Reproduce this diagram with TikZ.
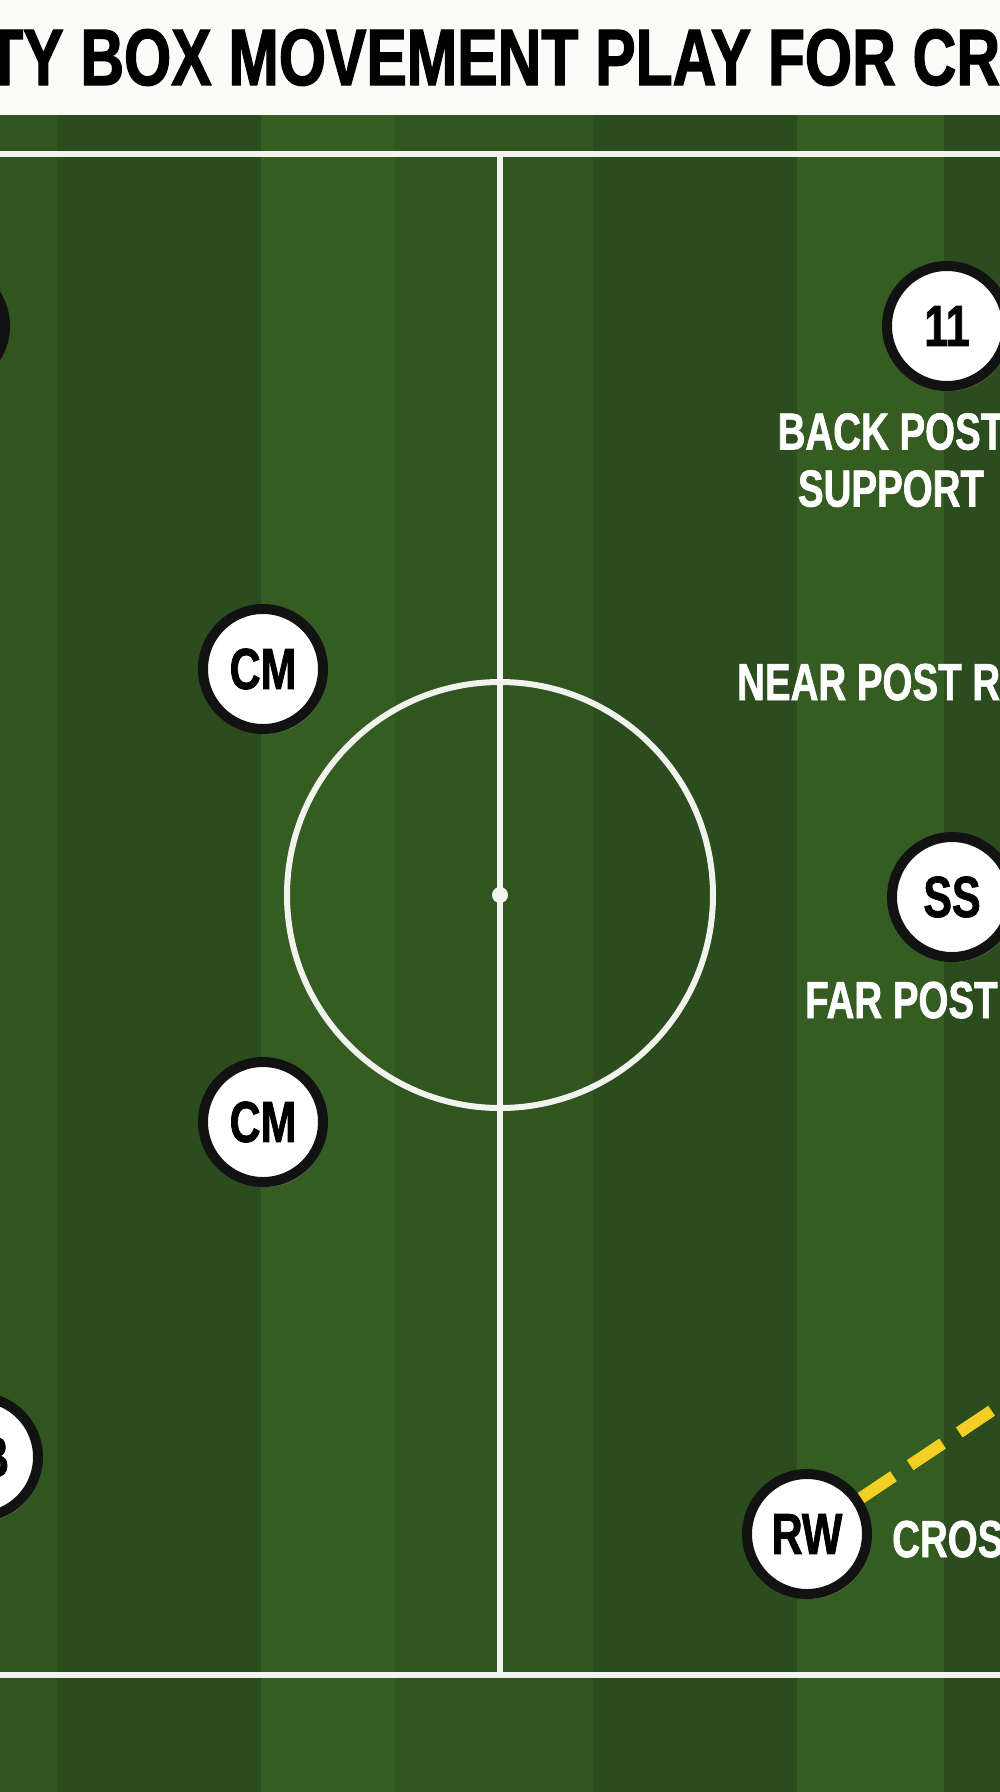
\documentclass[tikz,border=0pt]{standalone}
\usepackage{fontspec}
\newfontfamily\pitchfont[FakeStretch=0.74,FakeBold=1.2]{Liberation Sans}
\newfontfamily\headfont[FakeStretch=0.757,FakeBold=1.6]{Liberation Sans}
\usetikzlibrary{shadows}

\definecolor{titlewhite}{HTML}{FBFBF8}
\definecolor{grassdark}{HTML}{2B4C1D}
\definecolor{grassmid}{HTML}{30551F}
\definecolor{grasslight}{HTML}{355D22}
\definecolor{chalk}{HTML}{F2F2EE}
\definecolor{crossyellow}{HTML}{F1CF24}

\tikzset{
  player/.style={circle, draw=black!93, line width=10pt, fill=white,
    minimum size=120pt, inner sep=0pt,
    font=\pitchfont\bfseries\fontsize{58}{60}\selectfont,
    drop shadow={shadow xshift=3pt, shadow yshift=-5pt, opacity=.45}},
  tag/.style={text=white, inner sep=0pt,
    font=\pitchfont\bfseries\fontsize{52}{57}\selectfont},
  heading/.style={text=black, inner sep=0pt,
    font=\headfont\bfseries\fontsize{80}{80}\selectfont},
  pitchline/.style={draw=chalk, line width=6pt},
  crossline/.style={draw=crossyellow, line width=12pt, dash pattern=on 39pt off 20pt}
}

\begin{document}
\begin{tikzpicture}[x=1pt,y=-1pt]
\useasboundingbox (0,0) rectangle (1000,1792);
\clip (0,0) rectangle (1000,1792);

% title band
\fill[titlewhite] (0,0) rectangle (1000,115);
\node[heading, anchor=base west] (title) at (-14,85) {TY BOX MOVEMENT PLAY FOR CR};

% grass stripes
\fill[grassmid] (0,115) rectangle (57,1792);
\fill[grassdark] (57,115) rectangle (261,1792);
\fill[grasslight] (261,115) rectangle (395,1792);
\fill[grassmid] (395,115) rectangle (593,1792);
\fill[grassdark] (593,115) rectangle (797,1792);
\fill[grasslight] (797,115) rectangle (944,1792);
\fill[grassdark] (944,115) rectangle (1000,1792);

% pitch markings
\draw[pitchline] (-20,154) -- (1020,154);
\draw[pitchline] (-20,1675) -- (1020,1675);
\draw[pitchline] (500,154) -- (500,1675);
\draw[pitchline] (500,895) circle[radius=213];
\fill[chalk] (500,895) circle[radius=8];

% players
\node[player] (lw) at (-55,326) {};
\node[player] (cb) at (-22,1457) {\phantom{C}B};
\node[player] (cmtop) at (263,669) {CM};
\node[player] (cmbot) at (263,1122) {CM};
\node[player] (st) at (947,326) {11};
\node[player] (ss) at (952,897) {SS};
\node[player] (rw) at (807,1534) {RW};

% runs
\node[tag, anchor=north, align=center] (backpost) at (891,413) {BACK POST\\SUPPORT};
\node[tag, anchor=base west] (nearpost) at (737,700) {NEAR POST R};
\node[tag, anchor=base west] (farpost) at (805,1018) {FAR POST};
\node[tag, anchor=base west] (cross) at (892,1557) {CROS};

% cross
\coordinate (crossend) at (1150,1305);
\draw[crossline] (rw) -- (crossend);
\end{tikzpicture}
\end{document}
